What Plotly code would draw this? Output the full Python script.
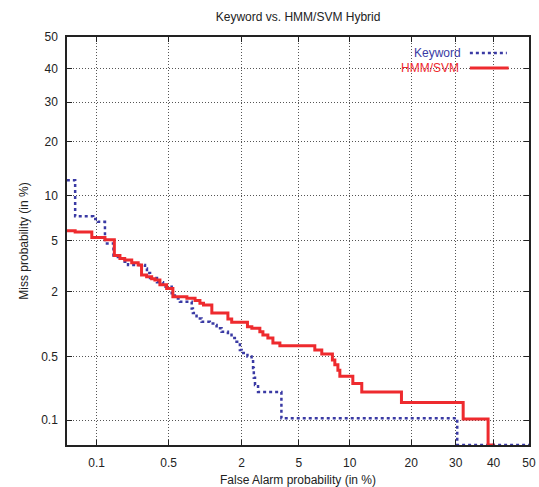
from statistics import NormalDist
import plotly.graph_objects as go

nd = NormalDist()

def probit(pct):
    return nd.inv_cdf(pct / 100.0)

# Tick values (in %)
x_ticks = [0.1, 0.5, 2, 5, 10, 20, 30, 40, 50]
y_ticks = [0.1, 0.5, 2, 5, 10, 20, 30, 40, 50]
x_tick_labels = ["0.1", "0.5", "2", "5", "10", "20", "30", "40", "50"]
y_tick_labels = ["0.1", "0.5", "2", "5", "10", "20", "30", "40", "50"]

# Keyword system (False alarm %, Miss %), staircase points
kw_fa = [0.03, 0.059, 0.092, 0.103, 0.122, 0.149, 0.165, 0.185, 0.208, 0.303,
         0.316, 0.338, 0.392, 0.445, 0.533, 0.569, 0.63, 0.796, 0.815, 0.875,
         0.964, 1.127, 1.239, 1.278, 1.40, 1.57, 1.675, 1.83, 1.94, 2.0,
         2.21, 2.37, 2.43, 2.46, 2.51, 2.64, 3.84, 30.4, 50.0]
kw_miss = [12.4, 7.4, 7.1, 6.8, 4.8, 3.9, 3.7, 3.5, 3.3, 3.1,
           2.85, 2.6, 2.4, 2.2, 1.94, 1.75, 1.64, 1.43, 1.30, 1.16,
           1.08, 1.04, 1.01, 0.94, 0.87, 0.85, 0.76, 0.70, 0.58, 0.54,
           0.50, 0.46, 0.38, 0.30, 0.25, 0.21, 0.105, 0.05, 0.05]

# HMM/SVM hybrid system
hs_fa = [0.03, 0.059, 0.089, 0.122, 0.152, 0.173, 0.193, 0.226, 0.261, 0.281,
         0.314, 0.35, 0.375, 0.417, 0.48, 0.546, 0.724, 0.85, 0.934, 1.0,
         1.17, 1.57, 1.68, 2.21, 2.38, 2.72, 2.86, 3.1, 3.36, 3.75,
         6.29, 6.93, 8.0, 8.26, 8.6, 8.82, 10.4, 11.6, 18.1, 31.9, 38.5, 40.3]
hs_miss = [5.9, 5.8, 5.3, 5.1, 3.9, 3.7, 3.6, 3.44, 3.3, 2.74,
           2.66, 2.56, 2.5, 2.28, 2.13, 1.81, 1.76, 1.68, 1.59, 1.53,
           1.30, 1.15, 1.07, 0.97, 0.94, 0.87, 0.81, 0.76, 0.68, 0.64,
           0.58, 0.53, 0.46, 0.41, 0.36, 0.31, 0.26, 0.21, 0.16, 0.103, 0.05, 0.05]

BLUE = "#3a3aa4"
RED = "#ee2a2e"
FONT = "Liberation Sans, Arial"

fig = go.Figure()
fig.add_trace(go.Scatter(
    x=[probit(v) for v in kw_fa], y=[probit(v) for v in kw_miss],
    mode="lines", line=dict(color=BLUE, width=2.5, dash="dot", shape="hv"),
    name="Keyword", showlegend=False))
fig.add_trace(go.Scatter(
    x=[probit(v) for v in hs_fa], y=[probit(v) for v in hs_miss],
    mode="lines", line=dict(color=RED, width=3, shape="hv"),
    name="HMM/SVM", showlegend=False))

axis_common = dict(
    showgrid=True, gridcolor="#555555", griddash="1px,2px", gridwidth=1,
    showline=True, linecolor="#222222", linewidth=1.5, mirror="ticks",
    ticks="inside", ticklen=5, tickcolor="#222222", tickwidth=1,
    zeroline=False, automargin=False,
    tickfont=dict(family=FONT, size=12, color="#222222"),
)

fig.update_xaxes(
    range=[probit(0.048), probit(50)],
    tickvals=[probit(v) for v in x_ticks], ticktext=x_tick_labels,
    title=dict(text="False Alarm probability (in %)", standoff=6,
               font=dict(family=FONT, size=12, color="#222222")),
    ticklabelstandoff=6,
    **axis_common)
fig.update_yaxes(
    range=[probit(0.05), probit(50)],
    tickvals=[probit(v) for v in y_ticks], ticktext=y_tick_labels,
    title=dict(text="Miss probability (in %)", standoff=10,
               font=dict(family=FONT, size=12, color="#222222")),
    ticklabelstandoff=5,
    **axis_common)

# gnuplot-style legend (text right-justified, sample to the right)
fig.add_annotation(xref="paper", yref="paper", x=0.858, y=0.961, text="Keyword",
                   showarrow=False, xanchor="right", yanchor="middle",
                   font=dict(family=FONT, size=12, color=BLUE))
fig.add_annotation(xref="paper", yref="paper", x=0.852, y=0.924, text="HMM/SVM",
                   showarrow=False, xanchor="right", yanchor="middle",
                   font=dict(family=FONT, size=12, color=RED))
fig.add_shape(type="line", xref="paper", yref="paper", x0=0.872, x1=0.952, y0=0.961, y1=0.961,
              line=dict(color=BLUE, width=2.5, dash="dot"))
fig.add_shape(type="line", xref="paper", yref="paper", x0=0.872, x1=0.956, y0=0.924, y1=0.924,
              line=dict(color=RED, width=3))

fig.update_layout(
    width=539, height=487,
    margin=dict(l=67, r=10, t=37, b=42),
    paper_bgcolor="white", plot_bgcolor="white",
    title=dict(text="Keyword vs. HMM/SVM Hybrid", x=0.553, xanchor="center",
               y=1 - 17 / 487, yanchor="middle", yref="container",
               font=dict(family=FONT, size=12, color="#222222")),
)

fig.write_html("out.html",
               config={"displayModeBar": False},
               post_script="document.body.style.margin='0';document.body.style.overflow='hidden';")
